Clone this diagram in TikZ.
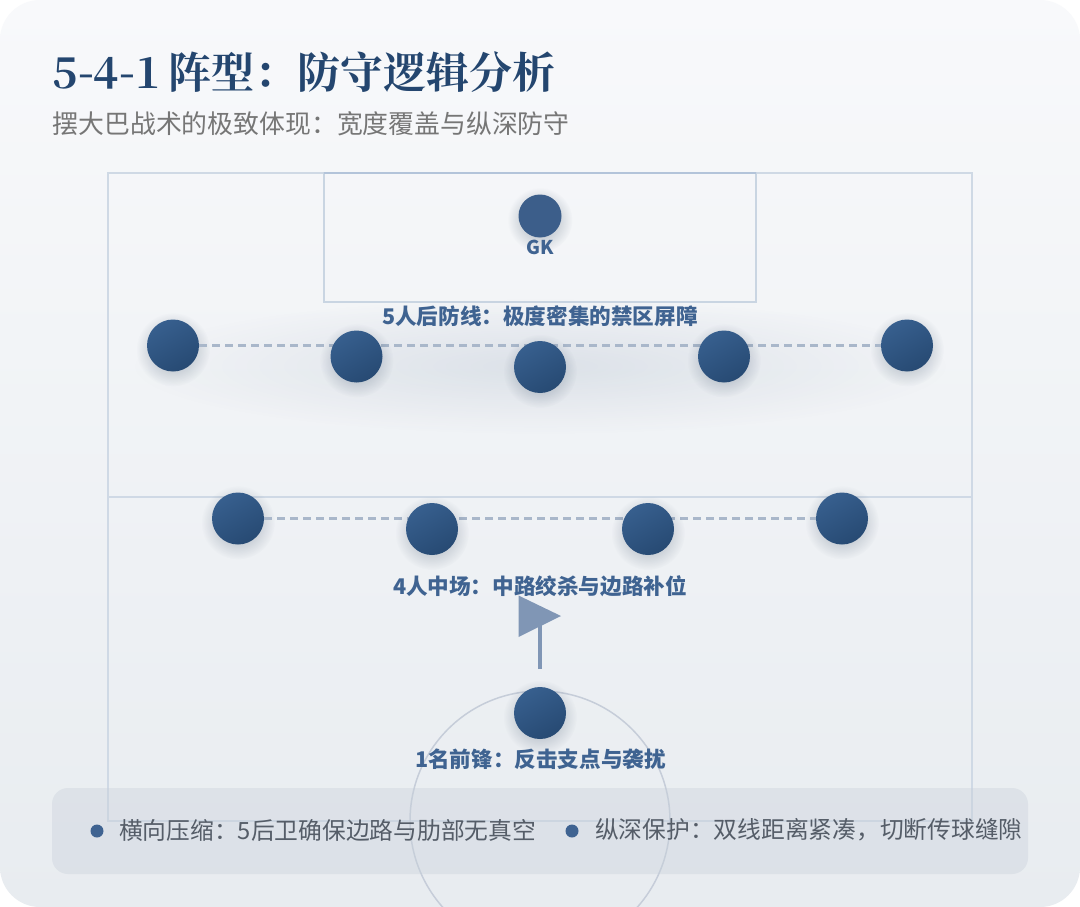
\documentclass[tikz,border=0pt]{standalone}
\usepackage{fontspec}
\usetikzlibrary{fadings}
\setmainfont{Noto Sans CJK SC}
\newfontfamily\serifcjk{Noto Serif CJK SC}[BoldFont={* Bold}]
\newfontfamily\sanscjk{Noto Sans CJK SC}
\definecolor{bgtop}{HTML}{F8F9FB}
\definecolor{bgbot}{HTML}{E8ECF0}
\definecolor{titleblue}{HTML}{24466F}
\definecolor{subgrey}{HTML}{767676}
\definecolor{fieldline}{HTML}{CFD9E5}
\definecolor{boxline}{HTML}{C9D5E2}
\definecolor{boxtop}{HTML}{B3C4DA}
\definecolor{circleline}{HTML}{C6CDD9}
\definecolor{dashline}{HTML}{A9B7CA}
\definecolor{labelblue}{HTML}{3F6391}
\definecolor{playerlight}{HTML}{375F8E}
\definecolor{playerdark}{HTML}{274A73}
\definecolor{flagblue}{HTML}{8096B5}
\definecolor{panelfill}{HTML}{C8D0DA}
\definecolor{panelnote}{HTML}{555D68}
\definecolor{shadowtone}{HTML}{1F3550}
\definecolor{zonetone}{HTML}{4A6488}
\tikzfading[name=shadowfade, inner color=transparent!60, outer color=transparent!100]
\tikzfading[name=zonefade, inner color=transparent!87, outer color=transparent!100]
\tikzset{
  player/.style={circle, inner sep=0pt, minimum size=52pt, top color=playerlight, bottom color=playerdark, shading angle=30},
  keeper/.style={circle, inner sep=0pt, minimum size=43pt, fill=labelblue!95!black},
  pitch/.style={draw=fieldline, line width=2pt},
  linkdash/.style={draw=dashline, line width=3pt, dash pattern=on 8pt off 5pt},
  grouplabel/.style={text=labelblue, font=\sanscjk\bfseries\fontsize{21.6}{24}\selectfont, inner sep=0pt},
  note/.style={text=panelnote, font=\sanscjk\fontsize{23.75}{26}\selectfont, inner sep=0pt, anchor=west},
  bullet/.style={circle, fill=labelblue, inner sep=0pt, minimum size=13pt},
}
\newcommand{\softshadow}[3]{\fill[shadowtone, path fading=shadowfade] (#1,#2+4) circle (#3+11);}
\begin{document}
\begin{tikzpicture}[x=1pt,y=-1pt]
\useasboundingbox (0,0) rectangle (1080,907);
\fill[white] (0,0) rectangle (1080,907);
\shade[rounded corners=40pt, top color=bgtop, bottom color=bgbot] (0,0) rectangle (1080,907);
% pitch
\draw[pitch] (108,172.5) rectangle (972,821);
\draw[pitch] (108,496.5) -- (972,496.5);
\draw[draw=boxline, line width=2pt] (324,172.5) rectangle (756,302);
\draw[draw=boxtop, line width=2pt] (324,172.5) -- (756,172.5);
\draw[draw=circleline, line width=1.5pt] (540,821) circle (130);
% zone
\fill[zonetone, path fading=zonefade] (540,366) ellipse (410 and 68);
% title
\node[anchor=west, inner sep=0pt, text=titleblue, font=\serifcjk\bfseries\fontsize{43}{48}\selectfont] (title) at (52.5,72) {5-4-1\hspace{-3pt} 阵型：防守逻辑分析};
\node[anchor=west, inner sep=0pt, text=subgrey, font=\sanscjk\fontsize{25.85}{30}\selectfont] (subtitle) at (52.5,124) {摆大巴战术的极致体现：宽度覆盖与纵深防守};
% keeper
\softshadow{540}{216}{21.5}
\node[keeper] (gk) at (540,216) {};
\node[grouplabel, font=\sanscjk\bfseries\fontsize{19}{22}\selectfont] (gklabel) at (540,247) {GK};
% defence
\softshadow{173}{345.5}{26}
\softshadow{907}{345.5}{26}
\node[player] (d1) at (173,345.5) {};
\node[player] (d5) at (907,345.5) {};
\draw[linkdash] (d1) -- (d5);
\softshadow{356.5}{356.5}{26}
\softshadow{540}{367}{26}
\softshadow{724}{356.5}{26}
\node[player] (d2) at (356.5,356.5) {};
\node[player] (d3) at (540,367) {};
\node[player] (d4) at (724,356.5) {};
\node[grouplabel] (dlabel) at (540,316) {5人后防线：极度密集的禁区屏障};
% midfield
\softshadow{238}{518.5}{26}
\softshadow{842}{518.5}{26}
\node[player] (m1) at (238,518.5) {};
\node[player] (m4) at (842,518.5) {};
\draw[linkdash] (m1) -- (m4);
\softshadow{432}{529}{26}
\softshadow{648}{529}{26}
\node[player] (m2) at (432,529) {};
\node[player] (m3) at (648,529) {};
\node[grouplabel] (mlabel) at (540,586) {4人中场：中路绞杀与边路补位};
% forward
\softshadow{540}{713}{26}
\node[player] (f1) at (540,713) {};
\node[grouplabel] (flabel) at (540.5,759) {1名前锋：反击支点与袭扰};
% flag arrow
\coordinate (shaftlow) at (540,669);
\coordinate (shafttop) at (540,625);
\draw[draw=flagblue, line width=4.5pt] (shaftlow) -- (shafttop);
\fill[flagblue] (518.5,595.5) -- (561,616) -- (518.5,637) -- cycle;
% panel
\fill[panelfill, fill opacity=0.38, rounded corners=16pt] (52,788) rectangle (1028,874);
\node[bullet] (b1) at (97,831) {};
\node[note] (n1) at (119,830) {横向压缩：5后卫确保边路与肋部无真空};
\node[bullet] (b2) at (572,831) {};
\node[note] (n2) at (595,830) {纵深保护：双线距离紧凑，切断传球缝隙};
\end{tikzpicture}
\end{document}
